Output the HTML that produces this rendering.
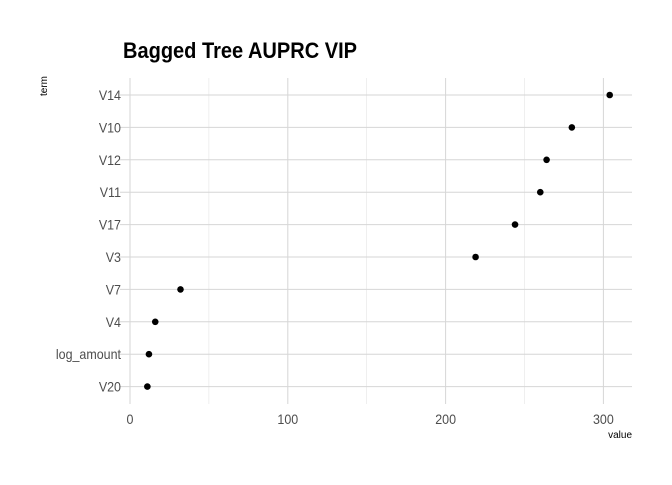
<!DOCTYPE html>
<html><head><meta charset="utf-8"><style>
body{margin:0;background:#fff;}
svg{font-family:"Liberation Sans",Arial,sans-serif;}
</style></head><body>
<svg width="672" height="480" id="c">
<text x="123" y="58" font-size="22" font-weight="bold" fill="#000" textLength="234" lengthAdjust="spacingAndGlyphs">Bagged Tree AUPRC VIP</text>
<text transform="translate(47,96) rotate(-90)" font-size="10" fill="#000">term</text>
<text x="632" y="438" font-size="10" fill="#000" text-anchor="end">value</text>
<g id="grid"></g><g id="marks"></g><g id="labels"></g>
</svg>
<script>
const terms=["V14","V10","V12","V11","V17","V3","V7","V4","log_amount","V20"];
const values=[304,280,264,260,244,219,32,16,12,11];
const ticks=[0,100,200,300];
const minorTicks=[50,150,250];
const X=v=>130+v*1.578;
const Y=i=>95+i*32.4;
const ns="http://www.w3.org/2000/svg";
const g=document.getElementById('grid'),m=document.getElementById('marks'),l=document.getElementById('labels');
function mk(t,a,p){const e=document.createElementNS(ns,t);for(const k in a)e.setAttribute(k,a[k]);p.appendChild(e);return e;}
function narrow(e){const w=e.getComputedTextLength();e.setAttribute('textLength',w*0.89);e.setAttribute('lengthAdjust','spacingAndGlyphs');}
minorTicks.forEach(t=>{const e=mk('line',{x1:X(t),x2:X(t),y1:78,y2:404,stroke:'#e4e4e4','stroke-width':0.6},g);

});
ticks.forEach(t=>{const e=mk('line',{x1:X(t),x2:X(t),y1:78,y2:404,stroke:'#d6d6d6','stroke-width':1},g);


const tx=mk('text',{x:X(t),y:424,'font-size':14,fill:'#4d4d4d','text-anchor':'middle'},l);tx.textContent=t;


narrow(tx);});
terms.forEach((t,i)=>{const e=mk('line',{x1:120,x2:632,y1:Y(i),y2:Y(i),stroke:'#d6d6d6','stroke-width':1},g);


const tx=mk('text',{x:121,y:Y(i)+5,'font-size':14,fill:'#4d4d4d','text-anchor':'end'},l);tx.textContent=t;


narrow(tx);
const c=mk('circle',{cx:X(values[i]),cy:Y(i),r:3.3,fill:'#000'},m);

});
</script>
</body></html>
